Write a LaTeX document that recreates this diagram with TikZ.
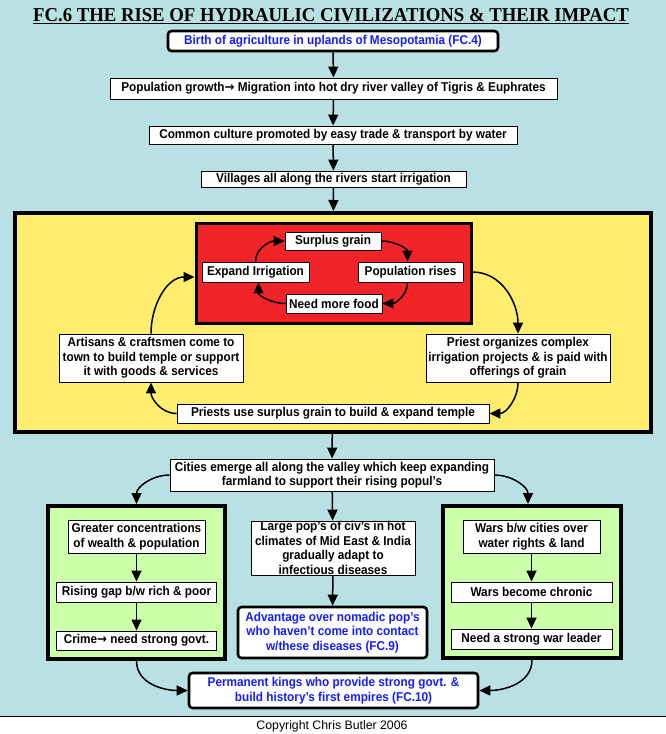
\documentclass[tikz,border=0pt]{standalone}
\usepackage{fontspec}
\setmainfont{Liberation Sans}[FakeStretch=0.92]
\newfontfamily\plainfont{Liberation Sans}
\newfontfamily\titlefont{Liberation Serif}[FakeStretch=0.95]
\newfontfamily\arrowfont{DejaVu Sans}[FakeStretch=0.92]
\newcommand{\rarr}{{\arrowfont\bfseries →}}
\usetikzlibrary{arrows.meta}
\definecolor{bgblue}{RGB}{185,224,227}
\definecolor{yel}{RGB}{255,238,110}
\definecolor{redc}{RGB}{242,36,40}
\definecolor{grn}{RGB}{204,255,170}
\definecolor{txtblue}{RGB}{20,30,255}
\tikzset{
  box/.style={draw=black, line width=0.9pt, fill=white, inner sep=0pt, align=center,
    font=\fontsize{12.8}{14.5}\selectfont\bfseries},
  rbox/.style={box, line width=2.6pt, rounded corners=3.5pt, text=txtblue},
  frame/.style={draw=black, inner sep=0pt},
  arr/.style={line width=1.5pt, -{Triangle[length=11pt,width=10pt]}},
}
\begin{document}
\begin{tikzpicture}[x=1pt,y=-1pt]
\useasboundingbox (0,0) rectangle (666,734);
\fill[white] (0,0) rectangle (666,734);
\fill[bgblue] (0,0) rectangle (666,716.5);
\draw[line width=1.2pt] (0,716.5) -- (666,716.5);

\node[anchor=base, inner sep=0pt, font=\fontsize{19.7}{20}\titlefont\bfseries] (title) at (331,21.5)
  {\underline{FC.6 THE RISE OF HYDRAULIC CIVILIZATIONS \& THEIR IMPACT}};

\node[rbox, minimum width=330, minimum height=20] (n1) at (333,41) {Birth of agriculture in uplands of Mesopotamia (FC.4)};
\node[box, minimum width=447, minimum height=21] (n2) at (333.5,88.5) {Population growth\rarr\ Migration into hot dry river valley of Tigris \& Euphrates};
\node[box, minimum width=368, minimum height=18] (n3) at (333,135) {Common culture promoted by easy trade \& transport by water};
\node[box, minimum width=265, minimum height=16] (n4) at (333.5,179) {Villages all along the rivers start irrigation};

\node[frame, fill=yel, line width=4pt, minimum width=636, minimum height=219] (yb) at (333,322.5) {};
\node[frame, fill=redc, line width=3pt, minimum width=275, minimum height=100] (rb) at (333.5,273) {};

\node[box, minimum width=96, minimum height=18] (surplus) at (333,241) {Surplus grain};
\node[box, minimum width=107, minimum height=20] (expand) at (255.5,272) {Expand Irrigation};
\node[box, minimum width=105, minimum height=20] (poprises) at (410.5,272) {Population rises};
\node[box, minimum width=96, minimum height=19] (needfood) at (334,303.5) {Need more food};

\node[box, minimum width=184, minimum height=48] (artisans) at (151,358) {Artisans \& craftsmen come to\\town to build temple or support\\it with goods \& services};
\node[box, minimum width=184, minimum height=48] (priest) at (518,358) {Priest organizes complex\\irrigation projects \& is paid with\\offerings of grain};
\node[box, minimum width=312, minimum height=19] (puse) at (333,413.5) {Priests use surplus grain to build \& expand temple};

\node[box, minimum width=324, minimum height=32] (cities) at (332,475) {Cities emerge all along the valley which keep expanding\\farmland to support their rising popul’s};

\node[frame, fill=grn, line width=4pt, minimum width=177, minimum height=153] (gl) at (136.5,582.5) {};
\node[frame, fill=grn, line width=4pt, minimum width=178, minimum height=152] (gr) at (532,582) {};

\node[box, minimum width=137, minimum height=33] (greater) at (136.5,536.5) {Greater concentrations\\of wealth \& population};
\node[box, minimum width=160.5, minimum height=20] (rising) at (136.5,592) {Rising gap b/w rich \& poor};
\node[box, minimum width=160.5, minimum height=19] (crime) at (136.5,640.5) {Crime\rarr\ need strong govt.};

\node[box, minimum width=164, minimum height=54] (large) at (333,548) {Large pop’s of civ’s in hot\\climates of Mid East \& India\\gradually adapt to\\infectious diseases};
\node[rbox, minimum width=189, minimum height=51] (adv) at (332.5,632.5) {Advantage over nomadic pop’s\\who haven’t come into contact\\w/these diseases (FC.9)};

\node[box, minimum width=137, minimum height=33] (wars) at (531.5,536.5) {Wars b/w cities over\\water rights \& land};
\node[box, minimum width=161, minimum height=20] (chronic) at (531.5,592) {Wars become chronic};
\node[box, minimum width=161, minimum height=20] (leader) at (531.5,639) {Need a strong war leader};

\node[rbox, minimum width=289, minimum height=35] (kings) at (333.5,690.5) {Permanent kings who provide strong govt. \&\\build history’s first empires (FC.10)};

\node[inner sep=0pt, font=\fontsize{12.3}{13}\plainfont] (copy) at (332,726) {Copyright Chris Butler 2006};

% straight arrows
\draw[arr] (n1) -- (n2);
\draw[arr] (n2) -- (n3);
\draw[arr] (n3) -- (n4);
\draw[arr] (n4) -- (yb);
\draw[arr] (yb) -- (cities);
\draw[arr] (cities) -- (large);
\draw[arr] (large) -- (adv);
\draw[arr] (greater) -- (rising);
\draw[arr] (rising) -- (crime);
\draw[arr] (wars) -- (chronic);
\draw[arr] (chronic) -- (leader);

% inner cycle
\draw[arr] (expand.north) to[out=90,in=180] (surplus.west);
\draw[arr] (surplus.east) to[out=0,in=90] ([xshift=-3pt]poprises.north);
\draw[arr] ([xshift=-3pt]poprises.south) to[out=-90,in=0] (needfood.east);
\draw[arr] (needfood.west) to[out=180,in=-90] ([xshift=3pt]expand.south);

% outer cycle
\coordinate (rbE) at (rb.east |- poprises);
\coordinate (rbW) at ([yshift=-4pt]rb.west);
\draw[arr] (rbE) to[out=0,in=90] (priest.north);
\draw[arr] (priest.south) to[out=-90,in=0] (puse.east);
\draw[arr] (puse.west) to[out=180,in=-90] (artisans.south);
\draw[arr] (artisans.north) to[out=90,in=180] (rbW);

% bottom
\draw[arr] (cities.west) to[out=180,in=90] (gl.north);
\draw[arr] (cities.east) to[out=0,in=90] ([xshift=-4pt]gr.north);
\draw[arr] (gl.south) to[out=-90,in=180] (kings.west);
\draw[arr] (gr.south) to[out=-90,in=0] (kings.east);
\end{tikzpicture}
\end{document}
